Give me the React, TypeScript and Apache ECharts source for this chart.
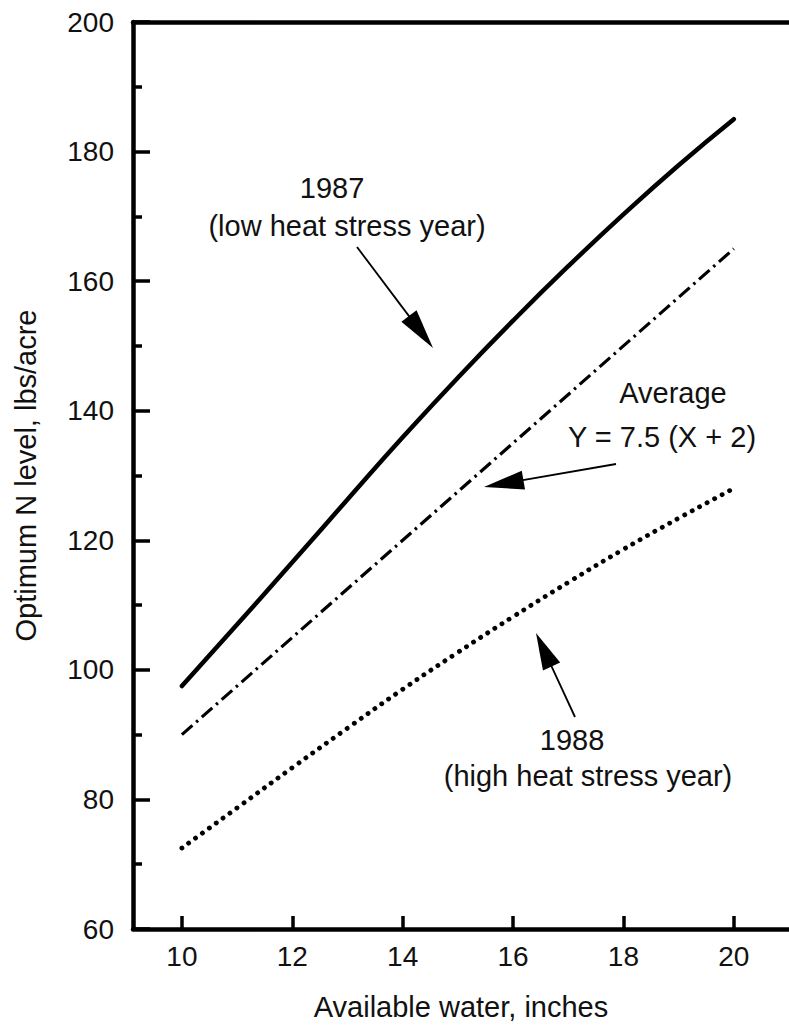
import React, { useEffect, useRef } from "react";
import * as echarts from "echarts";

// ---- data ----
const water = [10, 11, 12, 13, 14, 15, 16, 17, 18, 19, 20];
const n1987 = [97.5, 107, 116.6, 126.3, 135.9, 145.1, 153.9, 162.3, 170.3, 177.9, 185];
const n1988 = [72.5, 78.7, 84.9, 91, 97, 102.7, 108.2, 113.5, 118.6, 123.4, 128];
const avgWater = [10, 15, 20];
const nAverage = [90, 127.5, 165];
const xTicks = [10, 12, 14, 16, 18, 20];
const yMin = 60;
const yMax = 200;
const yStep = 20;

const FONT = "'Liberation Sans', Arial, Helvetica, sans-serif";

function arrow(x1: number, y1: number, x2: number, y2: number, len: number, w: number) {
  const dx = x2 - x1;
  const dy = y2 - y1;
  const d = Math.sqrt(dx * dx + dy * dy);
  const ux = dx / d;
  const uy = dy / d;
  const bx = x2 - ux * len;
  const by = y2 - uy * len;
  const px = -uy * (w / 2);
  const py = ux * (w / 2);
  return [
    {
      type: "line",
      shape: { x1, y1, x2: bx + ux * 2, y2: by + uy * 2 },
      style: { stroke: "#000", lineWidth: 1.8 },
      silent: true,
    },
    {
      type: "polygon",
      shape: {
        points: [
          [x2, y2],
          [bx + px, by + py],
          [bx - px, by - py],
        ],
      },
      style: { fill: "#000" },
      silent: true,
    },
  ];
}

function txt(text: string, x: number, y: number, size = 29) {
  return {
    type: "text",
    x,
    y,
    style: {
      text,
      fill: "#111",
      font: `${size}px ${FONT}`,
      align: "center",
      verticalAlign: "middle",
    },
    silent: true,
  };
}

export default function App() {
  const ref = useRef<HTMLDivElement>(null);

  useEffect(() => {
    if (!ref.current) return;
    const chart = echarts.init(ref.current, null, { renderer: "svg" });
    const xMin = 9.114;
    const xMax = 21;
    const axisLine = { show: true, onZero: false, lineStyle: { color: "#000", width: 4.5 } };

    chart.setOption({
      animation: false,
      backgroundColor: "#fff",
      grid: { left: 133, right: -1, top: 22, bottom: 97, containLabel: false },
      xAxis: [
        {
          type: "value",
          min: xMin,
          max: xMax,
          position: "bottom",
          axisLine,
          axisTick: {
            show: true,
            inside: true,
            length: 13,
            customValues: xTicks,
            lineStyle: { color: "#000", width: 3.5 },
          },
          axisLabel: {
            show: true,
            customValues: xTicks,
            color: "#111",
            fontSize: 28,
            fontFamily: FONT,
            margin: 13,
          },
          splitLine: { show: false },
          name: "Available water, inches",
          nameLocation: "middle",
          nameGap: 63,
          nameTextStyle: { color: "#111", fontSize: 29, fontFamily: FONT },
        },
        {
          type: "value",
          min: xMin,
          max: xMax,
          position: "top",
          axisLine,
          axisTick: { show: false },
          axisLabel: { show: false },
          splitLine: { show: false },
        },
      ],
      yAxis: {
        type: "value",
        min: yMin,
        max: yMax,
        interval: yStep,
        axisLine,
        axisTick: { show: true, inside: true, length: 17, lineStyle: { color: "#000", width: 3.5 } },
        minorTick: { show: true, splitNumber: 2, length: 9, lineStyle: { color: "#000", width: 3.5 } },
        axisLabel: { color: "#111", fontSize: 28, fontFamily: FONT, margin: 19 },
        splitLine: { show: false },
        minorSplitLine: { show: false },
        name: "Optimum N level, lbs/acre",
        nameLocation: "middle",
        nameGap: 93,
        nameTextStyle: { color: "#111", fontSize: 29, fontFamily: FONT },
      },
      series: [
        {
          name: "1987",
          type: "line",
          smooth: true,
          showSymbol: false,
          data: water.map((x, i) => [x, n1987[i]]),
          lineStyle: { color: "#000", width: 4.5, cap: "round" },
        },
        {
          name: "Average",
          type: "line",
          showSymbol: false,
          data: avgWater.map((x, i) => [x, nAverage[i]]),
          lineStyle: { color: "#000", width: 3.2, type: [14, 5, 2.5, 5] },
        },
        {
          name: "1988",
          type: "line",
          smooth: true,
          showSymbol: false,
          data: water.map((x, i) => [x, n1988[i]]),
          lineStyle: { color: "#000", width: 4.8, type: [0.1, 8.4], cap: "round" },
        },
      ],
      graphic: [
        txt("1987", 332, 188),
        txt("(low heat stress year)", 347, 226),
        txt("Average", 673, 393),
        txt("Y = 7.5 (X + 2)", 662, 437),
        txt("1988", 572, 740),
        txt("(high heat stress year)", 588, 776),
        ...arrow(357, 247, 433, 348, 40, 19),
        ...arrow(616, 464, 484, 487, 40, 19),
        ...arrow(575, 717, 536, 633, 37, 19),
      ],
    });
    return () => chart.dispose();
  }, []);

  return (
    <div
      ref={ref}
      style={{ position: "absolute", left: 0, top: 0, width: 789, height: 1026, background: "#fff" }}
    />
  );
}
